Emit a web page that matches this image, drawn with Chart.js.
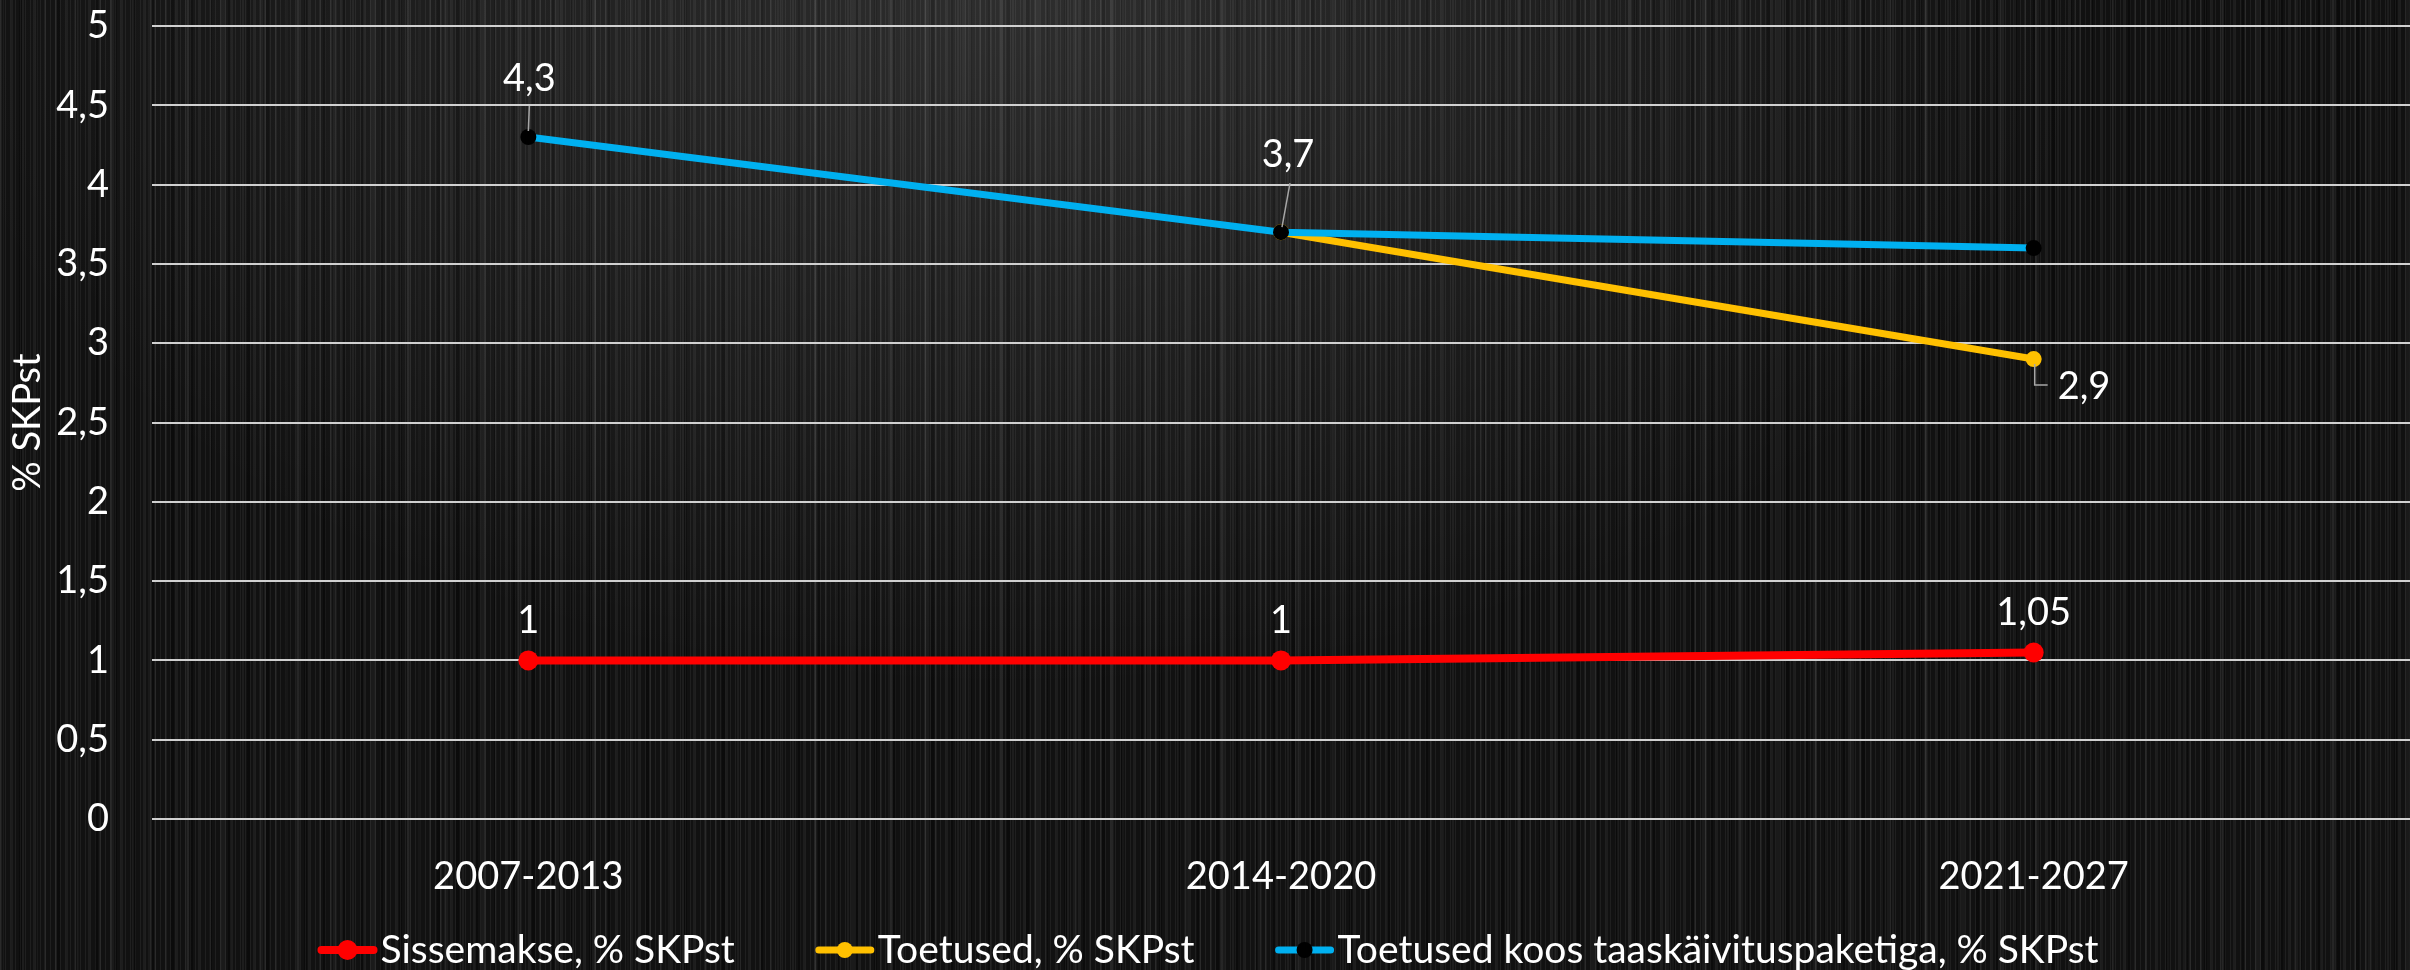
<!DOCTYPE html>
<html>
<head>
<meta charset="utf-8">
<script src="https://cdn.jsdelivr.net/npm/chart.js@4.4.0/dist/chart.umd.min.js"></script>
<style>
html, body { margin: 0; padding: 0; background: #0b0b0b; overflow: hidden; }
#wrap {
   width: 2410px; height: 970px;
   background:
      radial-gradient(ellipse 60% 95% at 42% 0%, rgba(255,255,255,0.12), rgba(255,255,255,0) 75%),
      repeating-linear-gradient(90deg, rgba(255,255,255,0.06) 0px, rgba(255,255,255,0.06) 1px, transparent 1px, transparent 5px),
      repeating-linear-gradient(90deg, rgba(255,255,255,0.05) 0px, rgba(255,255,255,0.05) 2px, transparent 2px, transparent 11px),
      repeating-linear-gradient(90deg, rgba(0,0,0,0.35) 0px, rgba(0,0,0,0.35) 3px, transparent 3px, transparent 19px),
      repeating-linear-gradient(90deg, rgba(255,255,255,0.04) 0px, rgba(255,255,255,0.04) 4px, transparent 4px, transparent 37px),
      #111111;
}
</style>
</head>
<body>
<div id="wrap"><canvas id="chart" width="2410" height="970"></canvas></div>
<script>
var categories = ['2007-2013', '2014-2020', '2021-2027'];
var sissemakse = [1, 1, 1.05];
var toetused = [null, 3.7, 2.9];
var toetusedKoos = [4.3, 3.7, 3.6];
var seriesNames = ['Sissemakse, % SKPst', 'Toetused, % SKPst', 'Toetused koos taaskäivituspaketiga, % SKPst'];
var yTicks = [0, 0.5, 1, 1.5, 2, 2.5, 3, 3.5, 4, 4.5, 5];
var yTitle = '% SKPst';

var FONT = 'Lato, "Open Sans", sans-serif';
var FONT_SIZE = 38;

function fmt(v) { return String(v).replace('.', ','); }

// data labels with leader lines, placed relative to each point
var valueLabels = {
   id: 'valueLabels',
   afterDatasetsDraw: function(chart, args, opts) {
      var ctx = chart.ctx;
      ctx.save();
      ctx.font = FONT_SIZE + 'px ' + FONT;
      ctx.textBaseline = 'middle';
      opts.items.forEach(function(it) {
         var el = chart.getDatasetMeta(it.ds).data[it.i];
         var v = chart.data.datasets[it.ds].data[it.i];
         var x = el.x, y = el.y;
         if (it.leader) {
            ctx.strokeStyle = '#a6a6a6';
            ctx.lineWidth = 1.5;
            ctx.beginPath();
            it.leader.forEach(function(p, k) {
               if (k) ctx.lineTo(x + p[0], y + p[1]);
               else ctx.moveTo(x + p[0], y + p[1]);
            });
            ctx.stroke();
         }
         ctx.fillStyle = '#ffffff';
         ctx.textAlign = it.align || 'center';
         ctx.fillText(fmt(v), x + it.dx, y + it.dy);
      });
      ctx.restore();
   }
};

// legend with a line + marker symbol, like the office chart
var lineLegend = {
   id: 'lineLegend',
   afterDraw: function(chart, args, opts) {
      var ctx = chart.ctx;
      ctx.save();
      ctx.font = opts.size + 'px ' + FONT;
      var items = chart.data.datasets.map(function(ds) {
         return { ds: ds, w: opts.symbol + opts.textGap + ctx.measureText(ds.label).width };
      });
      var total = items.reduce(function(s, it) { return s + it.w; }, 0) + opts.gap * (items.length - 1);
      var x = chart.width / 2 - total / 2 + opts.shift;
      var y = chart.height - opts.bottom;
      items.forEach(function(it) {
         var ds = it.ds;
         ctx.strokeStyle = ds.borderColor;
         ctx.lineWidth = ds.borderWidth;
         ctx.lineCap = 'round';
         ctx.beginPath();
         ctx.moveTo(x + 4, y);
         ctx.lineTo(x + opts.symbol - 4, y);
         ctx.stroke();
         ctx.fillStyle = ds.pointBackgroundColor;
         ctx.beginPath();
         ctx.arc(x + opts.symbol / 2, y, ds.pointRadius, 0, Math.PI * 2);
         ctx.fill();
         ctx.fillStyle = '#ffffff';
         ctx.textAlign = 'left';
         ctx.textBaseline = 'middle';
         ctx.fillText(ds.label, x + opts.symbol + opts.textGap, y);
         x += it.w + opts.gap;
      });
      ctx.restore();
   }
};

Chart.defaults.font.family = FONT;
Chart.defaults.font.size = FONT_SIZE;
Chart.defaults.color = '#ffffff';

new Chart(document.getElementById('chart'), {
   type: 'line',
   data: {
      labels: categories,
      datasets: [{
         label: seriesNames[0],
         data: sissemakse,
         borderColor: '#ff0000',
         backgroundColor: '#ff0000',
         pointBackgroundColor: '#ff0000',
         borderWidth: 8,
         pointRadius: 10,
         pointBorderWidth: 0,
         order: 3
      }, {
         label: seriesNames[1],
         data: toetused,
         borderColor: '#ffc000',
         backgroundColor: '#ffc000',
         pointBackgroundColor: '#ffc000',
         borderWidth: 7,
         pointRadius: 8,
         pointBorderWidth: 0,
         order: 2
      }, {
         label: seriesNames[2],
         data: toetusedKoos,
         borderColor: '#00b0f0',
         backgroundColor: '#00b0f0',
         pointBackgroundColor: '#000000',
         borderWidth: 7,
         pointRadius: 8,
         pointBorderWidth: 0,
         order: 1
      }]
   },
   options: {
      responsive: false,
      animation: false,
      devicePixelRatio: 1,
      events: [],
      layout: { autoPadding: false, padding: { top: 26, left: 0, right: -6, bottom: 70 } },
      elements: { line: { tension: 0 } },
      plugins: {
         legend: { display: false },
         tooltip: { enabled: false },
         valueLabels: {
            items: [
               { ds: 2, i: 0, dx: 1, dy: -58, leader: [[1, -31], [0, -6]] },
               { ds: 2, i: 1, dx: 7, dy: -77, leader: [[9, -49], [1, -5]] },
               { ds: 1, i: 2, dx: 24, dy: 28, align: 'left', leader: [[1, 5], [1, 26], [14, 26]] },
               { ds: 0, i: 0, dx: 0, dy: -40 },
               { ds: 0, i: 1, dx: 0, dy: -40 },
               { ds: 0, i: 2, dx: 0, dy: -40 }
            ]
         },
         lineLegend: { size: 39, symbol: 60, textGap: 3, gap: 80, shift: 3, bottom: 20 }
      },
      scales: {
         x: {
            offset: true,
            afterFit: function(scale) { scale.height = 81; },
            grid: { display: false, drawTicks: false },
            border: { display: false },
            ticks: { padding: 35, color: '#ffffff', maxRotation: 0 }
         },
         y: {
            min: 0,
            max: 5,
            afterBuildTicks: function(scale) {
               scale.ticks = yTicks.map(function(v) { return { value: v }; });
            },
            afterFit: function(scale) {
               scale.width = 152;
               scale.paddingTop = 0;
               scale.paddingBottom = 0;
            },
            grid: { color: '#d0d0d0', lineWidth: 2, drawTicks: false },
            border: { display: false },
            ticks: {
               padding: 43,
               color: '#ffffff',
               callback: function(value) { return fmt(value); }
            },
            title: {
               display: true,
               text: yTitle,
               color: '#ffffff',
               padding: { top: 5, bottom: 0 }
            }
         }
      }
   },
   plugins: [valueLabels, lineLegend]
});
</script>
</body>
</html>
